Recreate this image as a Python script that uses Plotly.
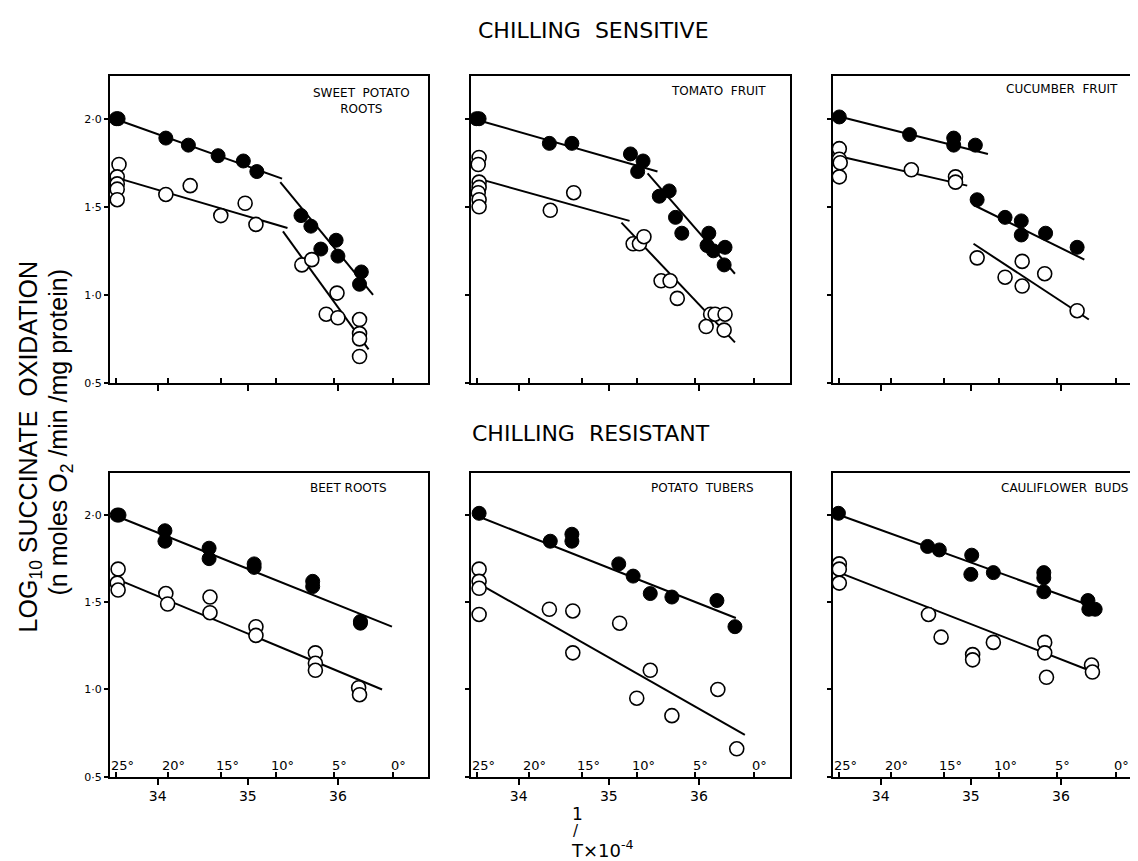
import plotly.graph_objects as go

# ---------------- data (x = 1/T x 10^4, y = log10 succinate oxidation) ----------------
# Panel 1: sweet potato roots (chilling sensitive)
sp_fill_x = [33.54, 33.56, 34.09, 34.34, 34.67, 34.95, 35.10, 35.59, 35.70, 35.81, 35.98, 36.00, 36.26, 36.24]
sp_fill_y = [2.00, 2.00, 1.89, 1.85, 1.79, 1.76, 1.70, 1.45, 1.39, 1.26, 1.31, 1.22, 1.13, 1.06]
sp_open_x = [33.57, 33.55, 33.55, 33.55, 33.55, 34.09, 34.36, 34.70, 34.97, 35.09, 35.60, 35.71, 35.99, 35.87, 36.00, 36.24, 36.24, 36.24, 36.24]
sp_open_y = [1.74, 1.67, 1.63, 1.60, 1.54, 1.57, 1.62, 1.45, 1.52, 1.40, 1.17, 1.20, 1.01, 0.89, 0.87, 0.86, 0.78, 0.75, 0.65]
sp_fill_line_x = [[33.52, 35.38], [35.36, 36.39]]
sp_fill_line_y = [[2.00, 1.66], [1.64, 1.00]]
sp_open_line_x = [[33.51, 35.44], [35.39, 36.34]]
sp_open_line_y = [[1.67, 1.38], [1.36, 0.69]]

# Panel 2: tomato fruit
tf_fill_x = [33.53, 33.56, 34.34, 34.59, 35.24, 35.38, 35.32, 35.56, 35.67, 35.74, 35.81, 36.11, 36.09, 36.16, 36.29, 36.28]
tf_fill_y = [2.00, 2.00, 1.86, 1.86, 1.80, 1.76, 1.70, 1.56, 1.59, 1.44, 1.35, 1.35, 1.28, 1.25, 1.27, 1.17]
tf_open_x = [33.56, 33.55, 33.56, 33.56, 33.55, 33.56, 33.56, 34.35, 34.61, 35.27, 35.34, 35.39, 35.58, 35.68, 35.76, 36.13, 36.18, 36.29, 36.08, 36.28]
tf_open_y = [1.78, 1.74, 1.64, 1.61, 1.58, 1.54, 1.50, 1.48, 1.58, 1.29, 1.29, 1.33, 1.08, 1.08, 0.98, 0.89, 0.89, 0.89, 0.82, 0.80]
tf_fill_line_x = [[33.56, 35.54], [35.43, 36.40]]
tf_fill_line_y = [[1.99, 1.70], [1.69, 1.12]]
tf_open_line_x = [[33.62, 35.23], [35.14, 36.40]]
tf_open_line_y = [[1.65, 1.42], [1.41, 0.73]]

# Panel 3: cucumber fruit
cf_fill_x = [33.54, 34.32, 34.81, 34.81, 35.05, 35.07, 35.38, 35.56, 35.56, 35.83, 36.18]
cf_fill_y = [2.01, 1.91, 1.89, 1.85, 1.85, 1.54, 1.44, 1.42, 1.34, 1.35, 1.27]
cf_open_x = [33.54, 33.54, 33.55, 33.54, 34.34, 34.83, 34.83, 35.07, 35.38, 35.57, 35.57, 35.82, 36.18]
cf_open_y = [1.83, 1.77, 1.75, 1.67, 1.71, 1.67, 1.64, 1.21, 1.10, 1.19, 1.05, 1.12, 0.91]
cf_fill_line_x = [[33.56, 35.19], [35.03, 36.26]]
cf_fill_line_y = [[2.01, 1.80], [1.51, 1.20]]
cf_open_line_x = [[33.60, 34.96], [35.03, 36.31]]
cf_open_line_y = [[1.78, 1.62], [1.29, 0.86]]

# Panel 4: beet roots (chilling resistant)
br_fill_x = [33.55, 33.57, 34.08, 34.08, 34.57, 34.57, 35.07, 35.07, 35.72, 35.72, 36.25, 36.25]
br_fill_y = [2.00, 2.00, 1.91, 1.85, 1.81, 1.75, 1.72, 1.70, 1.62, 1.59, 1.39, 1.38]
br_open_x = [33.56, 33.55, 33.56, 34.09, 34.11, 34.58, 34.58, 35.09, 35.09, 35.75, 35.75, 35.75, 36.23, 36.24]
br_open_y = [1.69, 1.61, 1.57, 1.55, 1.49, 1.53, 1.44, 1.36, 1.31, 1.21, 1.15, 1.11, 1.01, 0.97]
br_fill_line_x = [[33.56, 36.60]]
br_fill_line_y = [[1.99, 1.36]]
br_open_line_x = [[33.56, 36.49]]
br_open_line_y = [[1.63, 1.00]]

# Panel 5: potato tubers
pt_fill_x = [33.56, 34.35, 34.59, 34.59, 35.11, 35.27, 35.46, 35.70, 36.20, 36.40]
pt_fill_y = [2.01, 1.85, 1.89, 1.85, 1.72, 1.65, 1.55, 1.53, 1.51, 1.36]
pt_open_x = [33.56, 33.56, 33.56, 33.56, 34.34, 34.60, 34.60, 35.12, 35.46, 35.31, 35.70, 36.21, 36.42]
pt_open_y = [1.69, 1.62, 1.58, 1.43, 1.46, 1.45, 1.21, 1.38, 1.11, 0.95, 0.85, 1.00, 0.66]
pt_fill_line_x = [[33.56, 36.41]]
pt_fill_line_y = [[1.99, 1.41]]
pt_open_line_x = [[33.58, 36.51]]
pt_open_line_y = [[1.60, 0.74]]

# Panel 6: cauliflower buds
cb_fill_x = [33.53, 34.52, 34.65, 35.01, 35.00, 35.25, 35.81, 35.81, 35.81, 36.30, 36.31, 36.38]
cb_fill_y = [2.01, 1.82, 1.80, 1.77, 1.66, 1.67, 1.67, 1.64, 1.56, 1.51, 1.46, 1.46]
cb_open_x = [33.54, 33.54, 33.54, 34.53, 34.67, 35.02, 35.02, 35.25, 35.82, 35.82, 35.84, 36.34, 36.35]
cb_open_y = [1.72, 1.69, 1.61, 1.43, 1.30, 1.20, 1.17, 1.27, 1.27, 1.21, 1.07, 1.14, 1.10]
cb_fill_line_x = [[33.54, 36.33]]
cb_fill_line_y = [[2.00, 1.48]]
cb_open_line_x = [[33.54, 36.36]]
cb_open_line_y = [[1.67, 1.10]]

panel_names = ["SWEET  POTATO<br>ROOTS", "TOMATO  FRUIT", "CUCUMBER  FRUIT",
               "BEET ROOTS", "POTATO  TUBERS", "CAULIFLOWER  BUDS"]
x_tick_vals = [34, 35, 36]
x_tick_text = ["34", "35", "36"]
y_tick_vals = [0.5, 1.0, 1.5, 2.0]
y_tick_text = ["0·5", "1·0", "1·5", "2·0"]
temps_c = [25, 20, 15, 10, 5, 0]
temp_pos = [1e4 / (t + 273.15) for t in temps_c]

panels = [
    (sp_fill_x, sp_fill_y, sp_open_x, sp_open_y, sp_fill_line_x, sp_fill_line_y, sp_open_line_x, sp_open_line_y),
    (tf_fill_x, tf_fill_y, tf_open_x, tf_open_y, tf_fill_line_x, tf_fill_line_y, tf_open_line_x, tf_open_line_y),
    (cf_fill_x, cf_fill_y, cf_open_x, cf_open_y, cf_fill_line_x, cf_fill_line_y, cf_open_line_x, cf_open_line_y),
    (br_fill_x, br_fill_y, br_open_x, br_open_y, br_fill_line_x, br_fill_line_y, br_open_line_x, br_open_line_y),
    (pt_fill_x, pt_fill_y, pt_open_x, pt_open_y, pt_fill_line_x, pt_fill_line_y, pt_open_line_x, pt_open_line_y),
    (cb_fill_x, cb_fill_y, cb_open_x, cb_open_y, cb_fill_line_x, cb_fill_line_y, cb_open_line_x, cb_open_line_y),
]

# ---------------- layout geometry ----------------
W, H = 1138, 861
col_px = [(102, 420), (463, 782), (825, W)]
row_px = [(69, 378), (469, 775)]
x_left = 33.47
x_right_full = 37.0
FONT = "DejaVu Sans"

fig = go.Figure()
layout = dict(width=W, height=H, margin=dict(l=0, r=0, t=0, b=0),
              plot_bgcolor="white", paper_bgcolor="white", showlegend=False,
              font=dict(family=FONT, color="black"))
annotations = []

for i, (fx, fy, ox, oy, flx, fly, olx, oly) in enumerate(panels):
    r, c = divmod(i, 3)
    n = i + 1
    xa = "x" if n == 1 else f"x{n}"
    ya = "y" if n == 1 else f"y{n}"
    x0p, x1p = col_px[c]
    y0p, y1p = row_px[r]
    width_full = 318
    xr = x_left + (x_right_full - x_left) * (x1p - x0p) / width_full
    xkey = "xaxis" if n == 1 else f"xaxis{n}"
    ykey = "yaxis" if n == 1 else f"yaxis{n}"
    layout[xkey] = dict(
        domain=[x0p / W, x1p / W], range=[x_left, xr], anchor=ya,
        showline=True, linewidth=2, linecolor="black", mirror=True,
        ticks="outside", ticklen=6, tickwidth=1.5, tickcolor="black",
        tickmode="array", tickvals=x_tick_vals, ticktext=x_tick_text,
        showticklabels=(r == 1), tickfont=dict(size=14, family=FONT, color="black"),
        showgrid=False, zeroline=False,
        minor=dict(tickmode="array", tickvals=temp_pos, ticks="inside",
                   ticklen=5, tickwidth=1.5, tickcolor="black", showgrid=False),
    )
    layout[ykey] = dict(
        domain=[1 - y1p / H, 1 - y0p / H], range=[0.5, 2.24], anchor=xa,
        showline=True, linewidth=2, linecolor="black", mirror=(c != 2),
        ticks="outside", ticklen=4, tickwidth=1.5, tickcolor="black",
        tickmode="array", tickvals=y_tick_vals, ticktext=y_tick_text,
        showticklabels=(c == 0), tickfont=dict(size=11, family=FONT, color="black"),
        showgrid=False, zeroline=False,
    )
    # fitted lines
    for lx, ly in zip(flx, fly):
        fig.add_trace(go.Scatter(x=lx, y=ly, mode="lines", xaxis=xa, yaxis=ya,
                                 line=dict(color="black", width=2), hoverinfo="skip"))
    for lx, ly in zip(olx, oly):
        fig.add_trace(go.Scatter(x=lx, y=ly, mode="lines", xaxis=xa, yaxis=ya,
                                 line=dict(color="black", width=2), hoverinfo="skip"))
    # points
    fig.add_trace(go.Scatter(x=fx, y=fy, mode="markers", xaxis=xa, yaxis=ya,
                             marker=dict(symbol="circle", size=14, color="black",
                                         line=dict(color="black", width=1))))
    fig.add_trace(go.Scatter(x=ox, y=oy, mode="markers", xaxis=xa, yaxis=ya,
                             marker=dict(symbol="circle", size=14, color="white",
                                         line=dict(color="black", width=1.6))))

    # panel label
    if i == 0:
        annotations.append(dict(text=panel_names[i], x=353 / W, y=1 - 77 / H, xref="paper", yref="paper",
                                xanchor="center", yanchor="top", align="center", showarrow=False,
                                font=dict(size=12, family=FONT)))
    else:
        lx_px = {1: 661, 2: 996, 3: 300, 4: 641, 5: 991}[i]
        ly_px = {1: 75, 2: 73, 3: 475, 4: 475, 5: 475}[i]
        annotations.append(dict(text=panel_names[i], x=lx_px / W, y=1 - ly_px / H, xref="paper", yref="paper",
                                xanchor="left", yanchor="top", showarrow=False,
                                font=dict(size=12, family=FONT)))

    # temperature labels (bottom row)
    if r == 1:
        for t, tp in zip(temps_c, temp_pos):
            annotations.append(dict(text=f"{t}°", x=tp, y=0.005, xref=xa, yref=f"{ya} domain",
                                    xanchor="center", yanchor="bottom", xshift=6, showarrow=False,
                                    font=dict(size=13, family=FONT)))

# titles
annotations.append(dict(text="CHILLING  SENSITIVE", x=585 / W, y=1 - 23 / H, xref="paper", yref="paper",
                        xanchor="center", yanchor="middle", showarrow=False, font=dict(size=22, family=FONT)))
annotations.append(dict(text="CHILLING  RESISTANT", x=583 / W, y=1 - 429 / H, xref="paper", yref="paper",
                        xanchor="center", yanchor="middle", showarrow=False, font=dict(size=22, family=FONT)))
# y-axis label
annotations.append(dict(text="LOG<sub>10</sub> SUCCINATE  OXIDATION", x=22 / W, y=1 - 443 / H,
                        xref="paper", yref="paper", xanchor="center", yanchor="middle", textangle=-90,
                        showarrow=False, font=dict(size=25, family="Liberation Sans")))
annotations.append(dict(text="(n moles O<sub>2</sub> /min /mg protein)", x=52 / W, y=1 - 428 / H,
                        xref="paper", yref="paper", xanchor="center", yanchor="middle", textangle=-90,
                        showarrow=False, font=dict(size=25, family="Liberation Sans")))
# x-axis label
annotations.append(dict(text="1", x=569 / W, y=1 - 813 / H, xref="paper", yref="paper",
                        xanchor="center", yanchor="middle", showarrow=False, font=dict(size=17, family=FONT)))
annotations.append(dict(text="/", x=568 / W, y=1 - 830 / H, xref="paper", yref="paper",
                        xanchor="center", yanchor="middle", showarrow=False, font=dict(size=15, family=FONT)))
annotations.append(dict(text="T×10<sup>-4</sup>", x=561 / W, y=1 - 848 / H, xref="paper", yref="paper",
                        xanchor="left", yanchor="middle", showarrow=False, font=dict(size=18, family=FONT)))

layout["annotations"] = annotations
fig.update_layout(**layout)
fig.write_html("out.html")
